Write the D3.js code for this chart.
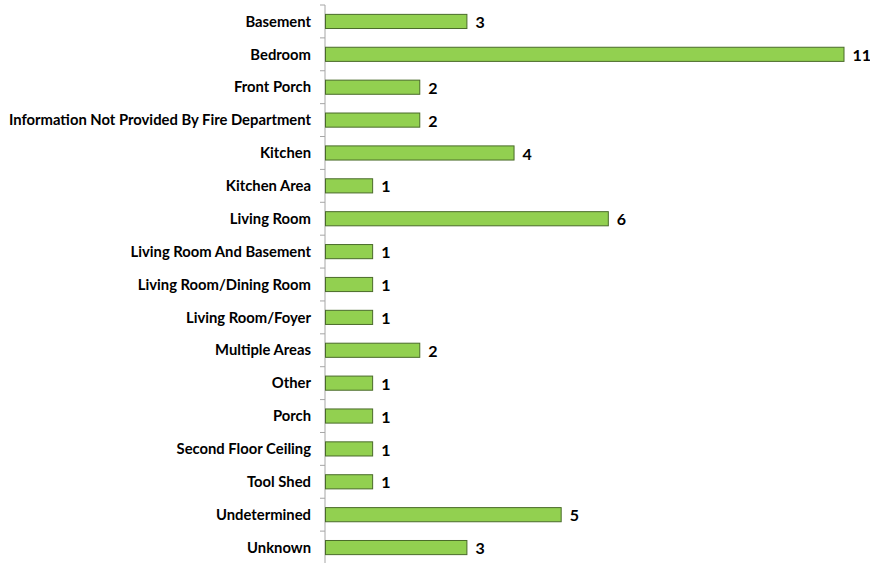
<!DOCTYPE html>
<html lang="en">
<head>
    <meta charset="UTF-8">
    <title>Fire origin areas</title>
    <script src="https://d3js.org/d3.v7.min.js"></script>
    <style>
        body{ margin:0; background:#fff; }
        .cat{
            font-family: Lato, "Open Sans", sans-serif;
            font-weight: bold;
            font-size: 14.8px;
            fill: #000;
        }
        .val{
            font-family: Lato, "Open Sans", sans-serif;
            font-weight: bold;
            font-size: 16px;
            fill: #000;
        }
    </style>
</head>
<body>
<svg width="870" height="563"></svg>
<script>
    const categories = ["Basement","Bedroom","Front Porch","Information Not Provided By Fire Department",
        "Kitchen","Kitchen Area","Living Room","Living Room And Basement","Living Room/Dining Room",
        "Living Room/Foyer","Multiple Areas","Other","Porch","Second Floor Ceiling","Tool Shed",
        "Undetermined","Unknown"];
    const counts = [3,11,2,2,4,1,6,1,1,1,2,1,1,1,1,5,3];

    const data = categories.map((c,i)=>({name:c, value:counts[i]}));

    const svg = d3.select("svg");
    const left = 325;

    const x = d3.scaleLinear().domain([0,11]).range([left, 843.5]);
    const y = d3.scaleBand().domain(categories).range([5, 564]).paddingInner(0.57).paddingOuter(0.285);

    // axis line with ticks at band boundaries
    const step = y.step();
    svg.append("line")
        .attr("x1", left).attr("x2", left)
        .attr("y1", 5).attr("y2", 564)
        .attr("stroke", "#a6a6a6").attr("stroke-width", 1);
    d3.range(categories.length + 1).forEach(i=>{
        svg.append("line")
            .attr("x1", left - 5).attr("x2", left)
            .attr("y1", 5 + i*step).attr("y2", 5 + i*step)
            .attr("stroke", "#a6a6a6");
    });

    const rows = svg.selectAll(".row").data(data).enter().append("g");

    rows.append("rect")
        .attr("x", left + 0.5)
        .attr("y", d=>y(d.name))
        .attr("width", d=>x(d.value) - left)
        .attr("height", y.bandwidth())
        .attr("fill", "#92d050")
        .attr("stroke", "#4a6b2a")
        .attr("stroke-width", 1);

    rows.append("text")
        .attr("class","cat")
        .attr("x", left - 14)
        .attr("y", d=>y(d.name) + y.bandwidth()/2)
        .attr("dy","0.35em")
        .attr("text-anchor","end")
        .text(d=>d.name);

    rows.append("text")
        .attr("class","val")
        .attr("x", d=>x(d.value) + 9)
        .attr("y", d=>y(d.name) + y.bandwidth()/2 + 1)
        .attr("dy","0.35em")
        .text(d=>d.value);
</script>
</body>
</html>
